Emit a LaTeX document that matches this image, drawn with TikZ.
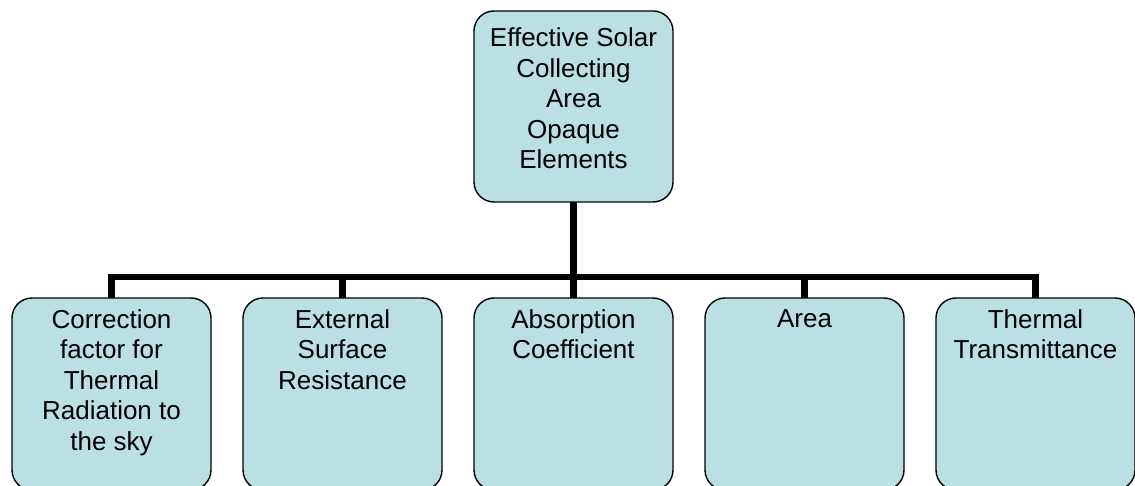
\documentclass[tikz,border=0pt]{standalone}
\usepackage{fontspec}
\setmainfont{Liberation Sans}
\definecolor{boxfill}{RGB}{187,224,227}
\begin{document}
\begin{tikzpicture}[x=1pt,y=-1pt,
  box/.style={draw=black, line width=1.4pt, fill=boxfill, rounded corners=20pt,
    minimum width=199pt, inner sep=0pt, outer sep=0pt},
  txt/.style={align=center, inner sep=0pt, font=\fontsize{26}{30.5}\selectfont},
  link/.style={line width=6.5pt, line cap=butt}]
\useasboundingbox (0,0) rectangle (1135,486);
\clip (0,0) rectangle (1135,486);
% top box
\node[box, minimum height=191pt] (top) at (573.5,106.5) {};
\node[txt, anchor=center] (ttop) at (573.5,98.5) {Effective Solar\\Collecting\\Area\\Opaque\\Elements};
% bottom row
\foreach \i/\x/\t in {1/111.5/{Correction\\factor for\\Thermal\\Radiation to\\the sky},
                      2/342.5/{External\\Surface\\Resistance},
                      3/573.5/{Absorption\\Coefficient},
                      4/804.5/{Area},
                      5/1035.5/{Thermal\\Transmittance}}{
  \node[box, minimum height=192pt] (b\i) at (\x,394) {};
  \node[txt, anchor=north] (t\i) at ([yshift=-11pt]b\i.north) {\t};
}
% connectors
\draw[link] (top.south) -- (b3.north);
\draw[link] (b1.north) -- ++(0,-21) -| (b5.north);
\draw[link] (b2.north) -- ++(0,-21);
\draw[link] (b4.north) -- ++(0,-21);
\end{tikzpicture}
\end{document}
